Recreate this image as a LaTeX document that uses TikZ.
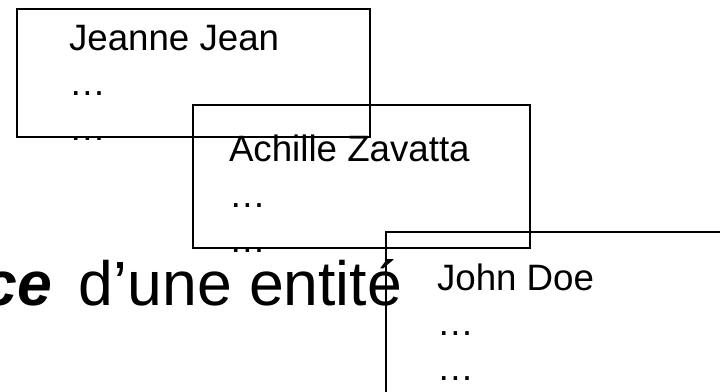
\documentclass[tikz,border=0pt]{standalone}
\usepackage{fontspec}
\setmainfont{Liberation Sans}
\begin{document}
\begin{tikzpicture}[x=1pt,y=-1pt,
  entbox/.style={draw=black, line width=2pt, rectangle, inner sep=0pt, outer sep=0pt, anchor=north west},
  entline/.style={inner sep=0pt, outer sep=0pt, anchor=base west, font=\fontsize{36.7}{44}\selectfont},
  bigtext/.style={inner sep=0pt, outer sep=0pt, anchor=base west, font=\fontsize{62.5}{75}\selectfont}]
\useasboundingbox (0,0) rectangle (720,391);
\clip (0,0) rectangle (720,391);
% big text
\node[bigtext] (title) at (-17,305) {\textbf{\textit{ce}}\hspace{9pt} d’une entité};
% box 1
\node[entbox, minimum width=353pt, minimum height=128pt] (b1) at (17,9) {};
\node[entline] (b1l1) at (69,50) {Jeanne Jean};
\node[entline] (b1l2) at (69,95) {…};
\node[entline] (b1l3) at (69,140) {…};
% box 2
\node[entbox, minimum width=337pt, minimum height=143pt] (b2) at (193,105) {};
\node[entline] (b2l1) at (229,161) {Achille Zavatta};
\node[entline] (b2l2) at (229,207) {…};
\node[entline] (b2l3) at (229,252) {…};
% box 3
\node[entbox, minimum width=400pt, minimum height=250pt] (b3) at (386,232) {};
\node[entline] (b3l1) at (437,290) {John Doe};
\node[entline] (b3l2) at (437,335) {…};
\node[entline] (b3l3) at (437,380) {…};
\end{tikzpicture}
\end{document}
